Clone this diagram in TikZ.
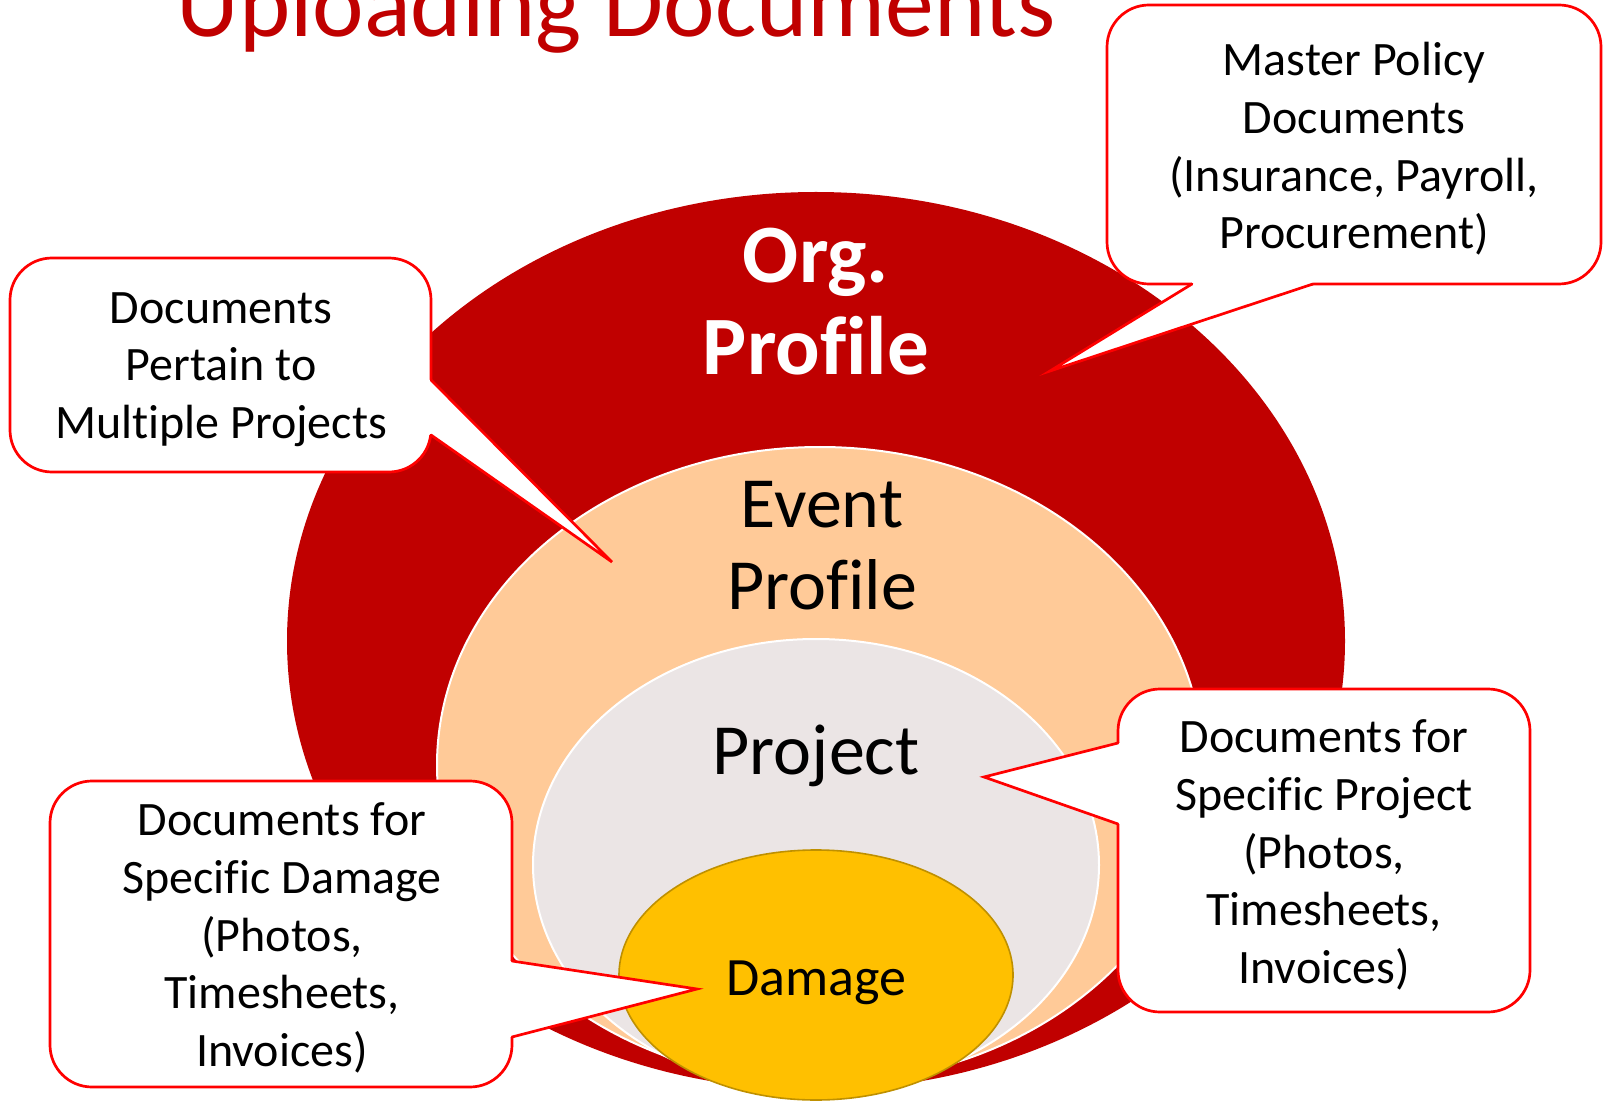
\documentclass[tikz,border=0pt]{standalone}
\usepackage{fontspec}
\setmainfont{Carlito}[Ligatures=NoCommon]
\usetikzlibrary{calc}
\definecolor{orgred}{HTML}{C00000}
\definecolor{eventpeach}{HTML}{FFCA98}
\definecolor{projgray}{HTML}{EBE5E5}
\definecolor{dmggold}{HTML}{FFC000}
\definecolor{dmgedge}{HTML}{BF9000}
\definecolor{calloutred}{HTML}{FF0000}

\begin{document}
\begin{tikzpicture}[x=0.5pt,y=-0.5pt,
  callout/.style={rectangle, draw=calloutred, line width=1.35pt, fill=white,
    rounded corners=21pt, inner sep=0pt, outer sep=0pt, anchor=north west},
  callouttext/.style={align=center, inner sep=0pt, text=black,
    font=\fontsize{24}{28.8}\selectfont},
  pointerfill/.style={fill=white},
  pointeredge/.style={draw=calloutred, line width=1.35pt, line cap=round},
  layerlabel/.style={align=center, inner sep=0pt},
]
\path[use as bounding box] (0,0) rectangle (1606,1101);
\clip (0,0) rectangle (1606,1101);

% heading
\node[anchor=base, text=orgred, inner sep=0pt,
      font=\fontsize{48.8}{58}\selectfont] (title) at (616,37) {Uploading Documents};

% nested layers
\fill[orgred] (816,641) ellipse [x radius=529, y radius=449];
\filldraw[fill=eventpeach, draw=white, line width=1pt] (820,765) ellipse [x radius=383, y radius=318];
\filldraw[fill=projgray, draw=white, line width=1pt] (816,865) ellipse [x radius=283, y radius=226];
\filldraw[fill=dmggold, draw=dmgedge, line width=0.8pt] (816,975) ellipse [x radius=197, y radius=125];

\node[layerlabel, text=white, font=\bfseries\fontsize{41.5}{46}\selectfont] (org) at (816,302) {Org.\\Profile};
\node[layerlabel, text=black, font=\fontsize{36}{41}\selectfont] (event) at (822,546) {Event\\Profile};
\node[layerlabel, text=black, font=\fontsize{36}{41}\selectfont] (project) at (816,756) {Project};
\node[layerlabel, text=black, font=\fontsize{27}{32}\selectfont] (damage) at (816,983) {Damage};

% callout: documents shared by several projects
\node[callout, minimum width=210.5pt, minimum height=107pt] (multi) at (10,258) {};
\coordinate (multiA) at (431,380);
\coordinate (multiB) at (431,435);
\coordinate (multiTip) at (612,562);
\fill[pointerfill] ($(multiA)+(-5,0)$) -- (multiA) -- (multiTip) -- (multiB) -- ($(multiB)+(-5,0)$) -- cycle;
\draw[pointeredge] (multiA) -- (multiTip) -- (multiB);
\node[callouttext] (multitext) at (221,369.5) {Documents\\Pertain to\\Multiple Projects};

% callout: master policy documents
\node[callout, minimum width=247pt, minimum height=139.5pt] (master) at (1107,5) {};
\coordinate (masterA) at (1192,284);
\coordinate (masterB) at (1313,284);
\coordinate (masterTip) at (1050,371);
\fill[pointerfill] ($(masterA)+(0,-5)$) -- (masterA) -- (masterTip) -- (masterB) -- ($(masterB)+(0,-5)$) -- cycle;
\draw[pointeredge] (masterA) -- (masterTip) -- (masterB);
\node[callouttext] (mastertext) at (1354,149) {Master Policy\\Documents\\(Insurance, Payroll,\\Procurement)};

% callout: project documents
\node[callout, minimum width=206pt, minimum height=161.5pt] (projdocs) at (1118,689) {};
\coordinate (projA) at (1118,743);
\coordinate (projB) at (1118,824);
\coordinate (projTip) at (984,777);
\fill[pointerfill] ($(projA)+(5,0)$) -- (projA) -- (projTip) -- (projB) -- ($(projB)+(5,0)$) -- cycle;
\draw[pointeredge] (projA) -- (projTip) -- (projB);
\node[callouttext] (projtext) at (1324,855) {Documents for\\Specific Project\\(Photos,\\Timesheets,\\Invoices)};

% callout: damage documents
\node[callout, minimum width=231pt, minimum height=153pt] (dmgdocs) at (50,781) {};
\coordinate (dmgA) at (512,961);
\coordinate (dmgB) at (512,1037);
\coordinate (dmgTip) at (697,989);
\fill[pointerfill] ($(dmgA)+(-5,0)$) -- (dmgA) -- (dmgTip) -- (dmgB) -- ($(dmgB)+(-5,0)$) -- cycle;
\draw[pointeredge] (dmgA) -- (dmgTip) -- (dmgB);
\node[callouttext] (dmgtext) at (282,938) {Documents for\\Specific Damage\\(Photos,\\Timesheets,\\Invoices)};
\end{tikzpicture}
\end{document}
